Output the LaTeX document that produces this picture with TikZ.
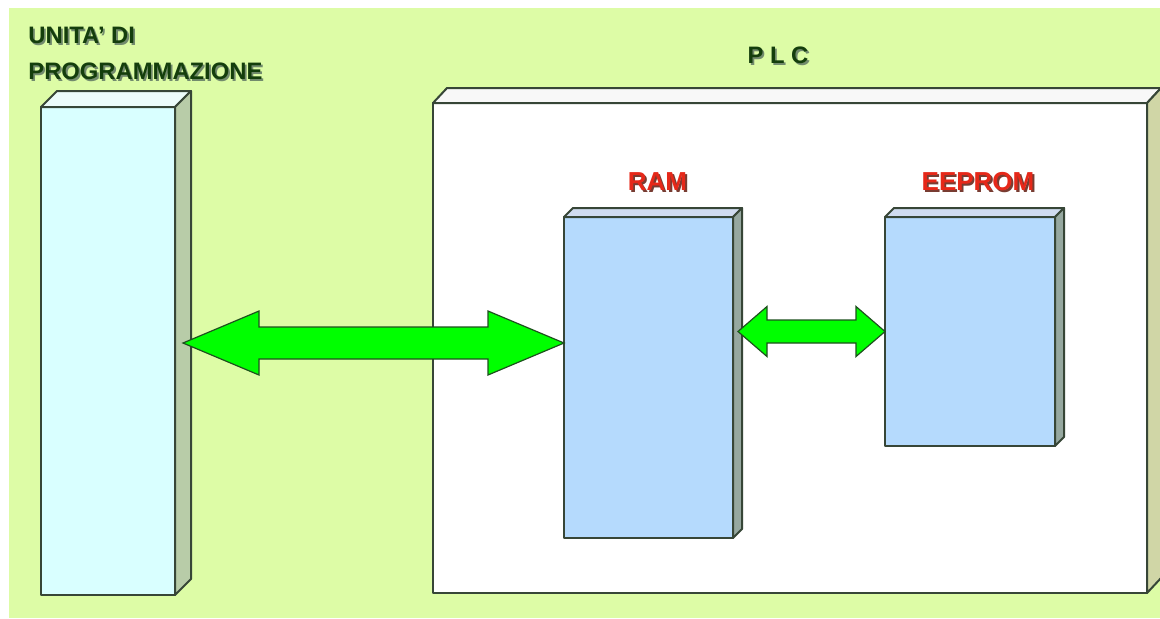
\documentclass[tikz,border=0pt]{standalone}
\usepackage{fontspec}
\setmainfont{Liberation Sans}
\usetikzlibrary{
    positioning,
    calc
}
\definecolor{sfondo}{RGB}{221,252,166}
\definecolor{bordoscuro}{RGB}{55,70,55}
\definecolor{azzurrino}{RGB}{217,255,255}
\definecolor{progtop}{RGB}{236,252,250}
\definecolor{proglato}{RGB}{184,204,168}
\definecolor{plctop}{RGB}{248,248,248}
\definecolor{plclato}{RGB}{208,214,166}
\definecolor{azzurro}{RGB}{181,218,253}
\definecolor{ramtop}{RGB}{208,220,240}
\definecolor{ramlato}{RGB}{150,168,160}
\definecolor{verdefreccia}{RGB}{0,255,0}
\definecolor{verdebordo}{RGB}{30,80,30}
\definecolor{verdescuro}{RGB}{20,62,12}
\definecolor{rosso}{RGB}{230,40,25}
\definecolor{ombrascura}{RGB}{120,60,50}

% testo con ombra
\newcommand{\ombra}[2]{\makebox[0pt][l]{\hspace{0.9pt}\raisebox{-0.9pt}{\textcolor{#1}{#2}}}#2}
% facce superiore e laterale di un blocco
\newcommand{\facce}[4]{%
    \draw[bordo, fill=#4] (#1.north west) -- ++(#2) -- ($(#1.north east)+(#2)$) -- (#1.north east) -- cycle;
    \draw[bordo, fill=#3] (#1.north east) -- ++(#2) -- ($(#1.south east)+(#2)$) -- (#1.south east) -- cycle;}
% freccia doppia: da, a, mezzo gambo, mezza punta, lunghezza punta
\newcommand{\frecciadoppia}[5]{%
    \draw[freccia] let \p1=(#1), \p2=(#2) in
        (\x1,\y1) -- (\x1+#5,\y1+#4) -- (\x1+#5,\y1+#3) -- (\x2-#5,\y2+#3) -- (\x2-#5,\y2+#4) -- (\x2,\y2)
        -- (\x2-#5,\y2-#4) -- (\x2-#5,\y2-#3) -- (\x1+#5,\y1-#3) -- (\x1+#5,\y1-#4) -- cycle;}

\begin{document}
\begin{tikzpicture}[x=0.5pt, y=-0.5pt,
    bordo/.style={draw=bordoscuro, line width=1pt, line join=round},
    blocco/.style={bordo, rectangle, inner sep=0pt, outer sep=0pt},
    titolo/.style={text=verdescuro, font=\bfseries\fontsize{11.9}{18}\selectfont, inner sep=0pt, align=left},
    etichetta/.style={text=rosso, font=\bfseries\fontsize{13}{15}\selectfont, inner sep=0pt},
    freccia/.style={draw=verdebordo, line width=0.6pt, fill=verdefreccia, line join=miter}]
                \useasboundingbox (0,0) rectangle (1160,618);
                \fill[white] (0,0) rectangle (1160,618);
                \fill[sfondo] (9,8) rectangle (1160,618);

                \node (prog) at (108,351) [blocco, fill=azzurrino, minimum width=67pt, minimum height=244pt] {};
                \facce{prog}{16,-16}{proglato}{progtop}
                \node (plc) at (790,348) [blocco, fill=white, minimum width=357pt, minimum height=245pt] {};
                \facce{plc}{14,-15}{plclato}{plctop}
                \node (ram) at (648.5,377.5) [blocco, fill=azzurro, minimum width=84.5pt, minimum height=160.5pt] {};
                \facce{ram}{9,-9}{ramlato}{ramtop}
                \node (eeprom) at (970,331.5) [blocco, fill=azzurro, minimum width=85pt, minimum height=114.5pt] {};
                \facce{eeprom}{9,-9}{ramlato}{ramtop}

                \node (titprog) at (28,27) [titolo, anchor=north west] {\ombra{verdescuro!60}{UNITA' DI}\\\ombra{verdescuro!60}{PROGRAMMAZIONE}};
                \node (titplc) at (778,56) [titolo] {\ombra{verdescuro!60}{P L C}};
                \node (titram) [etichetta, above=12pt of ram, xshift=4.5pt] {\ombra{ombrascura}{RAM}};
                \node (titeeprom) [etichetta, above=12pt of eeprom, xshift=4pt] {\ombra{ombrascura}{EEPROM}};

                \coordinate (pa) at ([shift={(8,-8)}]prog.east);
                \coordinate (pb) at (ram.west |- pa);
                \frecciadoppia{pa}{pb}{8pt}{16pt}{38pt}
                \coordinate (pc) at ([xshift=2.5pt]ram.east |- eeprom.west);
                \frecciadoppia{pc}{eeprom.west}{5.75pt}{12.5pt}{14.5pt}
\end{tikzpicture}
\end{document}
